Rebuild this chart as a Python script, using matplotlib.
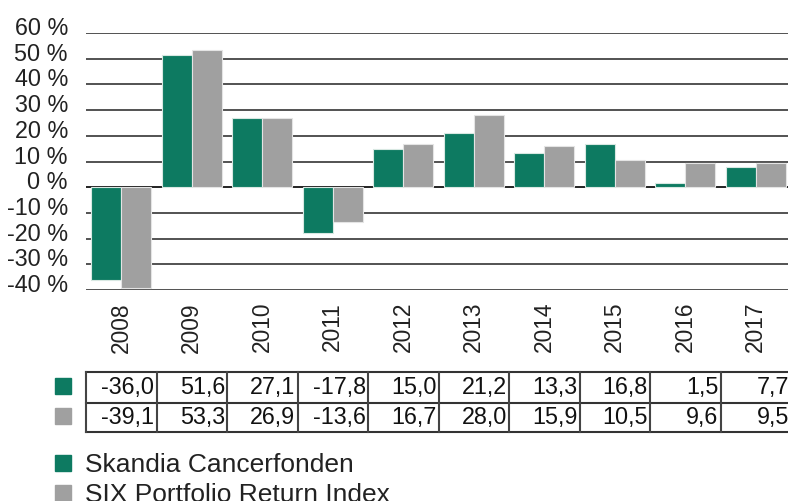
import matplotlib
matplotlib.use("Agg")
import matplotlib.pyplot as plt
import matplotlib.transforms as mtransforms
from matplotlib.patches import Rectangle
import numpy as np

plt.rcParams['font.family'] = ['Liberation Sans', 'DejaVu Sans']

years = ['2008', '2009', '2010', '2011', '2012', '2013', '2014', '2015', '2016', '2017']
skandia = [-36.0, 51.6, 27.1, -17.8, 15.0, 21.2, 13.3, 16.8, 1.5, 7.7]
six = [-39.1, 53.3, 26.9, -13.6, 16.7, 28.0, 15.9, 10.5, 9.6, 9.5]
series_names = ['Skandia Cancerfonden', 'SIX Portfolio Return Index']
yticks = [-40, -30, -20, -10, 0, 10, 20, 30, 40, 50, 60]

GREEN = '#0d7a61'
GREY = '#a0a0a0'
TXT = '#222222'

W, H = 788, 501
fig = plt.figure(figsize=(W / 100, H / 100), dpi=100)

def fx(px):
    return px / W

def fy(py):
    return 1 - py / H

ax_left, ax_right, ax_top, ax_bot = 86, 791, 33, 290
ax = fig.add_axes([fx(ax_left), fy(ax_bot), (ax_right - ax_left) / W, (ax_bot - ax_top) / H])

x = np.arange(len(years))
bw = 0.425
ax.bar(x - bw / 2, skandia, bw, color=GREEN, edgecolor='#d8e8e2', linewidth=0.8, zorder=3)
ax.bar(x + bw / 2, six, bw, color=GREY, edgecolor='#e4e4e4', linewidth=0.8, zorder=3)

ax.set_xlim(-0.5, len(years) - 0.5)
ax.set_ylim(-40, 60)
ax.set_yticks(yticks)
ax.set_yticklabels([f'{v} %' for v in yticks], fontsize=16.8, color=TXT)
for v in yticks:
    ax.axhline(v, color='#111111' if v == 0 else '#444444', lw=1.3, zorder=1)
ax.tick_params(axis='y', length=0, pad=13)
ax.tick_params(axis='x', length=0, labelbottom=False)
for s in ax.spines.values():
    s.set_visible(False)
off = mtransforms.ScaledTranslation(0, 7 / 100, fig.dpi_scale_trans)
for lab in ax.get_yticklabels():
    lab.set_transform(lab.get_transform() + off)

# year labels
trans = mtransforms.blended_transform_factory(ax.transData, ax.transAxes)
ytop = (ax_bot - 302) / (ax_bot - ax_top)
for i, yr in enumerate(years):
    ax.text(i, ytop, yr, rotation=90, ha='center', va='top', fontsize=16.4,
            color=TXT, transform=trans)

# data table
t_top, t_mid, t_bot = 372, 403, 432
def ay(py):
    return (ax_bot - py) / (ax_bot - ax_top)

for yy in (t_top, t_mid, t_bot):
    ax.plot([-0.5, len(years) - 0.5], [ay(yy)] * 2, color='#333333', lw=1.5,
            transform=trans, clip_on=False)
for i in range(len(years) + 1):
    ax.plot([i - 0.5] * 2, [ay(t_top), ay(t_bot)], color='#444444', lw=1.5,
            transform=trans, clip_on=False)
for row, vals in enumerate([skandia, six]):
    ymid = ay((t_top + t_mid) / 2) if row == 0 else ay((t_mid + t_bot) / 2)
    for i, v in enumerate(vals):
        ax.text(i + 0.47, ymid, f'{v:.1f}'.replace('.', ','), ha='right', va='center',
                fontsize=16.8, color='#111111', transform=trans)

# row markers
for (py, c) in [(378, GREEN), (408, GREY)]:
    fig.patches.append(Rectangle((fx(55), fy(py + 16)), 16 / W, 16 / H, color=c,
                                 transform=fig.transFigure, figure=fig))

# legend
for (py, c, name) in [(455, GREEN, series_names[0]), (485, GREY, series_names[1])]:
    fig.patches.append(Rectangle((fx(55), fy(py + 16)), 16 / W, 16 / H, color=c,
                                 transform=fig.transFigure, figure=fig))
    fig.text(fx(85), fy(py + 10), name, ha='left', va='center', fontsize=19,
             color=TXT)

fig.savefig('out.png', dpi=100)
